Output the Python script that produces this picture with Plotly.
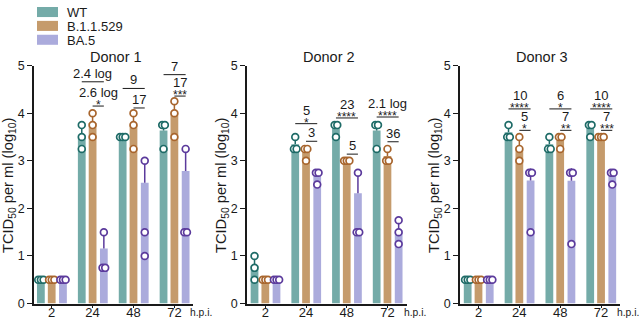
import numpy as np
import plotly.graph_objects as go

# ---------------- data ----------------
hours = ["2", "24", "48", "72"]
series = ["WT", "B.1.1.529", "BA.5"]
donors = ["Donor 1", "Donor 2", "Donor 3"]

# replicate log10 TCID50/ml values, [time point][replicate]
d1_wt = [[0.5, 0.5, 0.5], [3.75, 3.5, 3.25], [3.5, 3.5, 3.5], [3.75, 3.75, 3.25]]
d1_b = [[0.5, 0.5, 0.5], [4.0, 3.75, 3.5], [4.0, 3.75, 3.25], [4.25, 4.0, 3.5]]
d1_ba5 = [[0.5, 0.5, 0.5], [1.5, 0.75, 0.75], [3.0, 1.5, 1.0], [3.25, 1.5, 1.5]]

d2_wt = [[1.0, 0.75, 0.5], [3.5, 3.25, 3.25], [3.75, 3.75, 3.5], [3.75, 3.75, 3.25]]
d2_b = [[0.5, 0.5, 0.5], [3.25, 3.25, 3.0], [3.0, 3.0, 3.0], [3.25, 3.0, 3.0]]
d2_ba5 = [[0.5, 0.5, 0.5], [2.75, 2.75, 2.5], [2.75, 1.5, 1.5], [1.75, 1.5, 1.25]]

d3_wt = [[0.5, 0.5, 0.5], [3.75, 3.5, 3.5], [3.5, 3.25, 3.25], [3.75, 3.75, 3.5]]
d3_b = [[0.5, 0.5, 0.5], [3.5, 3.25, 3.0], [3.5, 3.5, 3.25], [3.5, 3.5, 3.5]]
d3_ba5 = [[0.5, 0.5, 0.5], [2.75, 2.75, 1.5], [2.75, 2.75, 1.25], [2.75, 2.75, 2.5]]

# comparisons vs BA.5: time-point index, reference series index, fold label, stars, bracket level
d1_cmp_time = [1, 1, 2, 2, 3, 3]
d1_cmp_ref = [0, 1, 0, 1, 0, 1]
d1_cmp_label = ["2.4 log", "2.6 log", "9", "17", "7", "17"]
d1_cmp_stars = ["", "*", "", "", "", "***"]
d1_cmp_level = [4.66, 4.15, 4.52, 4.11, 4.81, 4.36]

d2_cmp_time = [1, 1, 2, 2, 3, 3]
d2_cmp_ref = [0, 1, 0, 1, 0, 1]
d2_cmp_label = ["5", "3", "23", "5", "2.1 log", "36"]
d2_cmp_stars = ["*", "", "****", "", "****", ""]
d2_cmp_level = [3.78, 3.41, 3.90, 3.14, 3.92, 3.40]

d3_cmp_time = [1, 1, 2, 2, 3, 3]
d3_cmp_ref = [0, 1, 0, 1, 0, 1]
d3_cmp_label = ["10", "5", "6", "7", "10", "7"]
d3_cmp_stars = ["****", "*", "*", "**", "****", "***"]
d3_cmp_level = [4.09, 3.64, 4.09, 3.64, 4.09, 3.64]

y_ticks = [0, 1, 2, 3, 4, 5]

# ---------------- style ----------------
W, H = 639, 325
FONT = "Liberation Sans, Arial, sans-serif"
bar_colors = ["#74ABA8", "#C59B6C", "#ABABDC"]
dot_colors = ["#1E6B67", "#A8652D", "#5B3A9C"]
offsets = [-0.265, 0.0, 0.275]
bar_w = 0.19
panel_px = [(34, 193), (247, 407), (460, 620)]
xranges = [(-0.433, 3.455), (-0.45, 3.48), (-0.453, 3.464)]

# the photographed page carries an 8px band above/below the figure; map target
# screen rows onto figure rows
SCALE = H / (H + 16.0)


def fig_row(ys):
    return ys / SCALE - 8.0


def px_x(p):
    return p / W


def py(ys):
    return 1 - fig_row(ys) / H


def py_raw(fy):
    return 1 - fy / H


donor_data = [
    (d1_wt, d1_b, d1_ba5, d1_cmp_time, d1_cmp_ref, d1_cmp_label, d1_cmp_stars, d1_cmp_level),
    (d2_wt, d2_b, d2_ba5, d2_cmp_time, d2_cmp_ref, d2_cmp_label, d2_cmp_stars, d2_cmp_level),
    (d3_wt, d3_b, d3_ba5, d3_cmp_time, d3_cmp_ref, d3_cmp_label, d3_cmp_stars, d3_cmp_level),
]

fig = go.Figure()
shapes = []
annotations = []
layout_axes = {}

for k, (wt, b, ba5, c_t, c_r, c_l, c_s, c_lv) in enumerate(donor_data):
    xa = "x" if k == 0 else f"x{k+1}"
    ya = "y" if k == 0 else f"y{k+1}"
    groups = [wt, b, ba5]
    for s, vals in enumerate(groups):
        arr = np.array(vals, dtype=float)
        lin = 10 ** arr
        m = lin.mean(axis=1)
        sd = lin.std(axis=1, ddof=1)
        mean_log = np.log10(m)
        top_log = np.log10(m + sd)
        xs = np.arange(len(hours)) + offsets[s]
        fig.add_trace(go.Bar(
            x=xs, y=mean_log, width=bar_w, marker=dict(color=bar_colors[s], line=dict(width=0)),
            error_y=dict(type="data", symmetric=False, array=top_log - mean_log,
                         arrayminus=np.zeros(len(hours)), color=dot_colors[s], thickness=1.5, width=0),
            xaxis=xa, yaxis=ya, showlegend=False, name=series[s]))
        # replicate points, side by side when identical
        px_, py_ = [], []
        for t, reps in enumerate(vals):
            for i, v in enumerate(reps):
                same = [j for j, w in enumerate(reps) if w == v]
                n = len(same)
                idx = same.index(i)
                px_.append(t + offsets[s] + (idx - (n - 1) / 2) * 0.065)
                py_.append(v)
        fig.add_trace(go.Scatter(
            x=px_, y=py_, mode="markers",
            marker=dict(symbol="circle", size=6.8, color="white",
                        line=dict(color=dot_colors[s], width=1.7)),
            xaxis=xa, yaxis=ya, showlegend=False, cliponaxis=False, hoverinfo="skip"))

    # significance brackets
    for t, r, lab, st, lv in zip(c_t, c_r, c_l, c_s, c_lv):
        x0 = t + offsets[r]
        x1 = t + offsets[2]
        shapes.append(dict(type="line", xref=xa, yref=ya, x0=x0, x1=x1, y0=lv, y1=lv,
                           line=dict(color="#1a1a1a", width=1)))
        xc = (x0 + x1) / 2
        if st:
            annotations.append(dict(xref=xa, yref=ya, x=xc, y=lv, text=st, showarrow=False,
                                    font=dict(family=FONT, size=12, color="#1a1a1a"),
                                    yanchor="middle", yshift=1))
            annotations.append(dict(xref=xa, yref=ya, x=xc, y=lv, text=lab, showarrow=False,
                                    font=dict(family=FONT, size=13, color="#1a1a1a"),
                                    yanchor="middle", yshift=13.5))
        else:
            annotations.append(dict(xref=xa, yref=ya, x=xc, y=lv, text=lab, showarrow=False,
                                    font=dict(family=FONT, size=13, color="#1a1a1a"),
                                    yanchor="middle", yshift=8.5))

    x0p, x1p = panel_px[k]
    axis_common = dict(showgrid=False, zeroline=False, showline=True, linecolor="#1a1a1a",
                       linewidth=1.5, tickwidth=1.3, tickcolor="#1a1a1a", ticks="outside")
    layout_axes["xaxis" if k == 0 else f"xaxis{k+1}"] = dict(
        domain=[px_x(x0p), px_x(x1p)], range=list(xranges[k]), anchor=ya,
        tickmode="array", tickvals=list(range(len(hours))), ticktext=hours, ticklen=3,
        ticklabelstandoff=-7,
        tickfont=dict(family=FONT, size=13, color="#1a1a1a"), fixedrange=True, **axis_common)
    layout_axes["yaxis" if k == 0 else f"yaxis{k+1}"] = dict(
        domain=[py(303), py(66)], range=[0, 5], anchor=xa,
        tickmode="array", tickvals=y_ticks, ticktext=[str(v) for v in y_ticks], ticklen=5,
        tickfont=dict(family=FONT, size=12.5, color="#1a1a1a"), fixedrange=True, **axis_common)

    # panel title
    annotations.append(dict(xref="paper", yref="paper", x=px_x((x0p + x1p) / 2 + 2), y=py(57),
                            text=donors[k], showarrow=False, xanchor="center", yanchor="middle",
                            font=dict(family=FONT, size=14.5, color="#1a1a1a")))
    # y-axis title
    annotations.append(dict(xref="paper", yref="paper", x=px_x(x0p - 25), y=py(185),
                            text="TCID<sub>50</sub> per ml (log<sub>10</sub>)", textangle=-90,
                            showarrow=False, xanchor="center", yanchor="middle",
                            font=dict(family=FONT, size=14.7, color="#1a1a1a")))
    # x-axis unit
    annotations.append(dict(xref="paper", yref="paper", x=px_x(x1p + 8), y=py_raw(319.5),
                            text="h.p.i.", showarrow=False, xanchor="center", yanchor="middle",
                            font=dict(family=FONT, size=10.3, color="#1a1a1a")))

# legend drawn as swatches + labels
for s, name in enumerate(series):
    top = 14.5 * s
    shapes.append(dict(type="rect", xref="paper", yref="paper",
                       x0=px_x(37), x1=px_x(58), y0=py_raw(top + 10.5), y1=py_raw(top),
                       fillcolor=bar_colors[s], line=dict(width=0)))
    annotations.append(dict(xref="paper", yref="paper", x=px_x(65), y=py_raw(top + 5.5),
                            text=name, showarrow=False, xanchor="left", yanchor="middle",
                            font=dict(family=FONT, size=13, color="#1a1a1a")))

fig.update_layout(
    width=W, height=H, autosize=False,
    margin=dict(l=0, r=0, t=0, b=0),
    paper_bgcolor="white", plot_bgcolor="white",
    barmode="overlay", showlegend=False,
    shapes=shapes, annotations=annotations,
    font=dict(family=FONT, color="#1a1a1a"),
    **layout_axes,
)

fig.write_html("out.html", config={"displayModeBar": False, "responsive": False},
               post_script="document.body.style.margin='0';document.body.style.overflow='hidden';")
